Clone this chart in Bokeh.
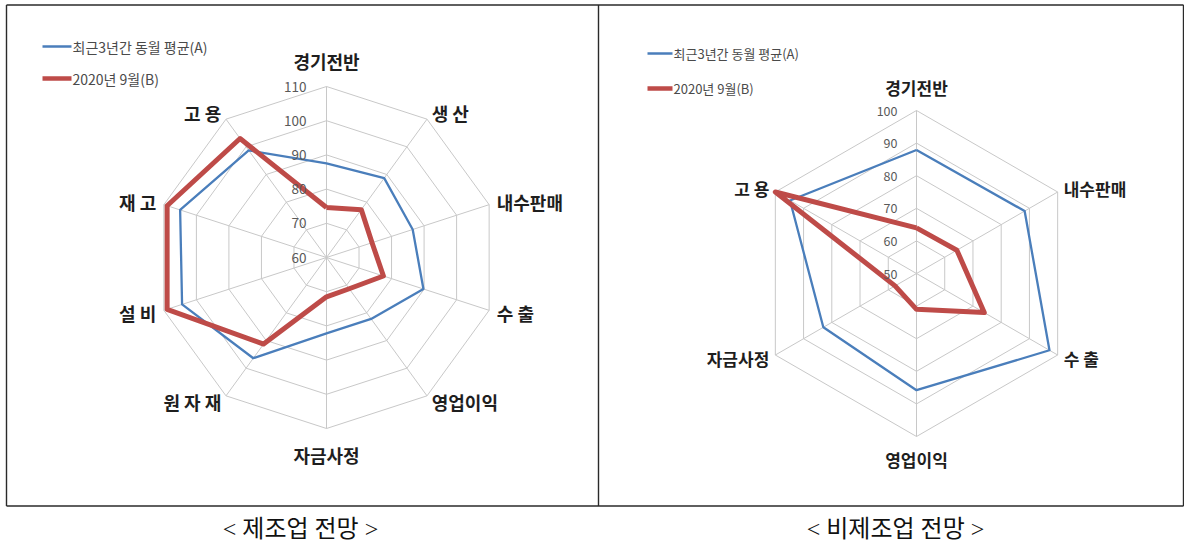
import numpy as np
from bokeh.plotting import figure
from bokeh.models import Range1d
from bokeh.core.properties import value
from bokeh.embed import file_html
from bokeh.resources import INLINE

# ---------------- data ----------------
mfg_categories = ["경기전반", "생 산", "내수판매", "수 출", "영업이익", "자금사정", "원 자 재", "설 비", "재 고", "고 용"]
mfg_avg3y = [87.5, 88.7, 86.5, 89.8, 82.2, 82.2, 96.4, 104.4, 105.0, 98.7]
mfg_sep2020 = [74.6, 77.3, 74.0, 77.5, 71.3, 71.5, 91.3, 109.0, 109.0, 103.0]
mfg_ticks = [60, 70, 80, 90, 100, 110]

nonmfg_categories = ["경기전반", "내수판매", "수 출", "영업이익", "자금사정", "고 용"]
nonmfg_avg3y = [87.9, 88.3, 97.1, 85.8, 83.0, 94.8]
nonmfg_sep2020 = [64.0, 64.3, 74.0, 61.0, 57.6, 100.0]
nonmfg_ticks = [50, 60, 70, 80, 90, 100]

series_names = ["최근3년간 동월 평균(A)", "2020년 9월(B)"]
captions = ["< 제조업 전망 >", "< 비제조업 전망 >"]

# ---------------- styles ----------------
BLUE = "#4A7EBB"
RED = "#BE4B48"
GRID = "#C8C8C8"
KFONT = value("Noto Sans CJK KR")

W, H = 1184, 543
p = figure(width=W, height=H, x_range=Range1d(0, W), y_range=Range1d(H, 0),
           output_backend="svg", toolbar_location=None, min_border=0,
           x_axis_type=None, y_axis_type=None)
p.grid.visible = False
p.outline_line_color = None
p.background_fill_color = "white"
p.border_fill_color = "white"


def draw_radar(cx, cy, R, ticks, cats, s_a, s_b, cat_size, tick_size, top_pad, side_pad, tick_dx):
    vmin, vmax = ticks[0], ticks[-1]
    n = len(cats)
    ang = np.arange(n) * 2 * np.pi / n
    sx, sy = np.sin(ang), -np.cos(ang)

    def rad(v):
        return (np.asarray(v, dtype=float) - vmin) / (vmax - vmin) * R

    # rings
    xs, ys = [], []
    for t in ticks[1:]:
        r = rad(t)
        xs.append(list(cx + r * sx) + [cx + r * sx[0]])
        ys.append(list(cy + r * sy) + [cy + r * sy[0]])
    # spokes
    for i in range(n):
        xs.append([cx, cx + R * sx[i]])
        ys.append([cy, cy + R * sy[i]])
    p.multi_line(xs, ys, line_color=GRID, line_width=1)

    # series
    for vals, col, lw in ((s_a, BLUE, 2.3), (s_b, RED, 5)):
        r = rad(vals)
        x = list(cx + r * sx) + [cx + r[0] * sx[0]]
        y = list(cy + r * sy) + [cy + r[0] * sy[0]]
        p.line(x, y, line_color=col, line_width=lw, line_join="round")

    # tick labels
    p.text(x=[cx - tick_dx] * len(ticks), y=list(cy - rad(ticks)), text=[str(t) for t in ticks],
           text_align="right", text_baseline="middle", text_font=KFONT,
           text_font_size=f"{tick_size}px", text_color="#595959")

    # category labels
    groups = {"center": ([], [], []), "left": ([], [], []), "right": ([], [], [])}
    for i, c in enumerate(cats):
        vx, vy = cx + R * sx[i], cy + R * sy[i]
        if abs(sx[i]) < 0.1:
            gx, gy = vx, vy + sy[i] * top_pad
            g = "center"
        else:
            gx, gy = vx + sx[i] * side_pad, vy + sy[i] * side_pad
            g = "left" if sx[i] > 0 else "right"
        groups[g][0].append(gx)
        groups[g][1].append(gy)
        groups[g][2].append(c)
    for g, (gx, gy, gt) in groups.items():
        if gt:
            p.text(x=gx, y=gy, text=gt, text_align=g, text_baseline="middle",
                   text_font=KFONT, text_font_style="bold",
                   text_font_size=f"{cat_size}px", text_color="#1e1e1e")


def draw_legend(x0, x1, y_a, y_b, size):
    p.line([x0, x1], [y_a, y_a], line_color=BLUE, line_width=2.3)
    p.line([x0, x1], [y_b, y_b], line_color=RED, line_width=4.5)
    p.text(x=[x1 + 1, x1 + 1], y=[y_a, y_b], text=series_names, text_align="left",
           text_baseline="middle", text_font=KFONT, text_font_size=f"{size}px",
           text_color="#4a4a4a")


# table borders
p.multi_line([[6, 1183], [6, 1183], [6, 6], [1183, 1183], [598, 598]],
             [[4.5, 4.5], [505.5, 505.5], [4.5, 505.5], [4.5, 505.5], [4.5, 505.5]],
             line_color="#2a2a2a", line_width=1.4)

draw_radar(326, 257, 171, mfg_ticks, mfg_categories, mfg_avg3y, mfg_sep2020,
           cat_size=18, tick_size=13.5, top_pad=26, side_pad=8, tick_dx=20)
draw_radar(916, 273, 163, nonmfg_ticks, nonmfg_categories, nonmfg_avg3y, nonmfg_sep2020,
           cat_size=17, tick_size=12.5, top_pad=23, side_pad=7, tick_dx=19)

draw_legend(42, 71, 46, 78, 14)
draw_legend(647, 672, 53, 88, 13)

p.text(x=[300, 895], y=[528, 528], text=captions, text_align="center", text_baseline="middle",
       text_font=value("Liberation Serif, Noto Sans CJK KR"), text_font_size="24px",
       text_color="#111111")

open("out.html", "w").write(file_html(p, INLINE))
